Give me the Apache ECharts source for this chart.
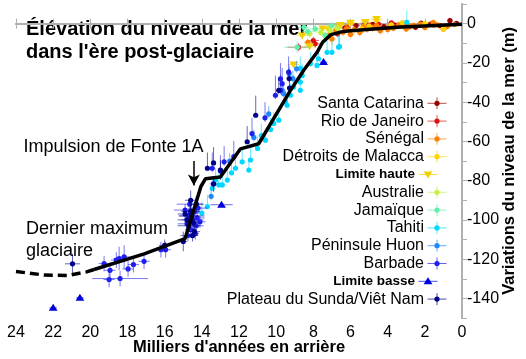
<!DOCTYPE html>
<html><head><meta charset="utf-8">
<script src="https://cdn.jsdelivr.net/npm/echarts@6/dist/echarts.min.js"></script>
<style>html,body{margin:0;padding:0;background:#fff}#c{width:526px;height:359px}</style>
</head><body><div id="c"></div>
<script>
// ---- data: [kyr ago, sea level (m), x error, y error up, y error down]
const santaCatarina = [[5.7,-1.0,0.2,1,1],[4.2,-1.5,0.2,1,1],[2.5,-1.9,0.2,1,1],[1.7,-0.2,0.2,1,1],[0.65,1.5,0.15,1.5,1.5],[1.2,-1.0,0.2,1,1],[6.3,-2.2,0.2,1,1],[3.6,-0.8,0.2,1,1],[5.2,0.2,0.2,1,1],[4.8,-0.4,0.2,1,1],[3.2,-0.3,0.2,1,1],[2.2,0.3,0.2,1,1],[0.3,0.2,0.15,1,1]];
const rioDeJaneiro = [[8.8,-12,0.6,2,2],[7.9,-10.3,0.3,2,2],[8.0,-8.6,0.3,2,2],[3.0,-1,0.2,1,1],[2.1,-0.5,0.2,1,1],[6.7,-5.2,0.2,1.5,1.5],[5.0,-0.8,0.2,1,1],[4.5,-0.2,0.2,1,1],[3.8,0.4,0.2,1,1],[1.5,-0.7,0.2,1,1],[6.2,-1.8,0.2,1,1]];
const senegal = [[8.3,-9.5,0.2,2,2],[7.1,-5.2,0.2,2,2],[7.0,-7.8,0.2,3,3],[6.4,-4.4,0.2,2,2],[5.1,-2.7,0.2,2,2],[4.4,-3.6,0.2,2,2],[3.4,-0.5,0.2,1.5,1.5],[2.25,-0.2,0.2,1.5,1.5],[1.55,0.7,0.2,1,1],[1.0,-2.7,0.2,1.5,1.5],[5.8,-3,0.2,2,2],[3.9,-1.2,0.2,1.5,1.5],[2.8,-1.5,0.2,1.5,1.5],[6.8,-3.5,0.2,2,2],[0.4,-0.5,0.2,1,1],[6.2,-2.5,0.2,2,2],[5.5,-4.5,0.2,2,2],[4.8,-2.2,0.2,2,2],[4.0,-3.0,0.2,2,2],[3.7,-2.4,0.2,1.5,1.5],[3.0,-2.8,0.2,1.5,1.5],[2.6,-0.9,0.2,1.5,1.5],[2.0,-2.0,0.2,1.5,1.5],[1.3,-0.6,0.2,1,1],[0.8,-1.5,0.2,1,1],[7.3,-6.5,0.2,2,2],[6.0,-5.5,0.2,2,2],[5.3,-1.4,0.2,2,2],[4.6,-0.9,0.2,2,2]];
const malacca = [[6.7,-1.9,0.2,1.5,1.5],[5.4,-2.7,0.2,1.5,1.5],[4.6,1.9,0.3,1.5,1.5],[1.0,-2.7,0.2,1.5,1.5],[3.2,0.5,0.2,1,1],[6.0,0.3,0.2,1.5,1.5],[5.0,-1.2,0.2,1.5,1.5],[3.8,-0.6,0.2,1.5,1.5],[2.0,0.2,0.2,1,1],[7.2,-2.5,0.2,1.5,1.5]];
const limiteHaute = [[9.06,-20.8,0.3,0,0],[8.2,-11.5,0.3,0,0],[6.55,-0.7,0.4,0,0],[4.6,2.4,0.3,0,0],[6.0,0.5,0.3,0,0],[7.5,-2.5,0.3,0,0],[5.2,0.8,0.3,0,0],[8.6,-6,0.3,0,0]];
const australie = [[8.2,-5.2,0.2,2,2],[7.1,-3.6,0.2,2,2],[6.7,-2.4,0.2,2,2],[7.6,-4.5,0.2,2,2]];
const jamaique = [[8.87,-12,0.7,3,3],[8.5,-1.9,0.3,2,2],[7.0,-1,0.3,2,2],[7.9,-2.7,0.3,2,2],[7.36,-6,0.2,2,2],[8.3,-4,0.3,2,2]];
const tahiti = [[13.7,-93.2,0.1,6,1],[14.0,-96.5,0.1,6,1],[13.44,-83.9,0.1,6,1],[13.26,-79.7,0.1,6,1],[12.9,-82.2,0.1,6,1],[12.63,-79.7,0.1,6,1],[12.19,-73.7,0.1,6,1],[11.83,-70.4,0.1,6,1],[11.47,-74.6,0.1,6,1],[11.38,-69.5,0.1,6,1],[11.0,-63.6,0.1,6,1],[10.58,-59.4,0.1,6,1],[10.13,-50.9,0.1,6,1],[9.86,-49.2,0.1,6,1],[9.5,-39.9,0.1,6,1],[9.41,-41.6,0.1,6,1],[9.23,-36.5,0.1,6,1],[9.06,-32.3,0.1,6,1],[8.7,-34,0.1,6,1],[8.7,-29.8,0.1,6,1],[8.6,-26.4,0.1,6,1],[8.7,-22.8,0.1,6,1],[8.16,-20.4,0.1,6,1],[7.8,-21.3,0.1,6,1],[7.72,-17.9,0.1,6,1],[7.26,-14.6,0.1,6,1],[7.0,-14.6,0.1,6,1],[6.64,-12,0.1,6,1],[6.59,-11.7,0.1,6,1],[2.97,0.7,0.1,6,1],[13.08,-82.2,0.1,6,1],[12.4,-76,0.1,6,1],[10.8,-57,0.1,6,1],[10.3,-54,0.1,6,1]];
const huon = [[9.6,-35.7,0.1,4,2],[9.3,-25.5,0.1,4,2],[9.68,-34,0.1,4,2],[10.4,-46,0.1,4,2],[11.2,-58,0.1,4,2],[12.5,-70,0.1,4,2],[13.5,-88,0.1,4,2],[8.9,-23,0.1,4,2],[9.1,-28,0.1,4,2]];
const barbade = [[19.26,-122.3,0.3,4,4],[18.94,-125.7,0.3,4,4],[18.99,-130.4,0.3,4,4],[18.4,-129.9,1.5,4,4],[18.45,-119.7,0.3,6,6],[18.18,-118.9,0.3,6,6],[17.97,-125,0.3,4,4],[17.68,-122.8,0.3,4,4],[17.11,-121.1,0.3,4,4],[16.2,-115.2,0.3,4,4],[15.95,-115.2,0.3,4,4],[18.6,-120.5,0.3,4,4],[14.7,-98,0.5,4,4],[14.5,-100,0.6,4,4],[14.3,-103,0.4,4,4],[14.6,-105,0.3,4,4],[14.4,-96,0.3,4,4],[14.25,-99,0.4,3,3],[14.8,-102,0.5,3,3],[14.35,-107,0.2,3,3],[14.9,-95,0.6,3,3],[14.2,-94,0.5,3,3],[14.65,-92,0.7,3,3],[14.1,-101,0.3,3,3],[14.75,-108,0.4,3,3],[12.8,-70.4,0.1,8,2],[12.28,-67.8,0.1,8,2],[13.44,-73.7,0.1,8,2],[9.77,-34,0.1,8,2],[9.68,-30.6,0.1,8,2],[9.33,-24.7,0.1,8,2],[10.04,-36.5,0.1,10,2],[9.77,-28.1,0.1,8,2],[11.3,-56,0.1,8,2],[10.6,-48,0.1,8,2],[13.0,-75,0.1,8,2]];
const limiteBasse = [[22.0,-144.8,0.2,0,0],[20.56,-139.7,0.2,0,0],[12.94,-92.3,0.6,0,0],[7.45,-19.6,0.2,0,0]];
const sunda = [[20.96,-122.4,0.4,5,5],[15.0,-111,0.2,5,5],[14.6,-90,0.3,5,5],[14.6,-95.7,0.5,5,5],[14.8,-100,0.5,5,5],[14.45,-101.5,0.4,5,5],[13.37,-81.7,0.2,4,4],[11.1,-46.7,0.1,10,1],[11.56,-60.2,0.1,8,1],[13.0,-74.6,0.1,5,5],[13.37,-71,0.1,8,1],[13.7,-73.7,0.1,8,1],[9.86,-34,0.1,6,2],[9.3,-28,0.1,5,2],[9.28,-32.8,0.1,5,2],[14.9,-97,0.4,3,3],[14.5,-108,0.3,3,3],[16.0,-113,0.3,3,3],[14.55,-98,0.7,4,4],[14.3,-92,0.4,4,4],[14.7,-103,0.6,3,3],[14.4,-106,0.3,3,3]];

const curveDashed = [[24,-126.3],[22.5,-128.1],[21.2,-128.3],[20.2,-126.5],[19.8,-125.3]];
const curveSolid = [[19.8,-125.3],[17.1,-117.3],[14.9,-109.5],[14.05,-83],[13.8,-79],[13.0,-78.2],[11.92,-63.8],[10.94,-61.2],[9.23,-34],[8.5,-23.5],[7.8,-14.6],[7.5,-9.5],[7.05,-5.6],[6.5,-4.2],[6.0,-3.6],[3.5,-1.9],[0,-0.3]];

const seriesNames = ['Santa Catarina','Rio de Janeiro','Sénégal','Détroits de Malacca','Limite haute','Australie','Jamaïque','Tahiti','Péninsule Huon','Barbade','Limite basse','Plateau du Sunda/Viêt Nam'];
const seriesData = [santaCatarina, rioDeJaneiro, senegal, malacca, limiteHaute, australie, jamaique, tahiti, huon, barbade, limiteBasse, sunda];
const seriesColors = ['#9a0000','#e01010','#ff8000','#ffd400','#f2d000','#c4f040','#60f0a8','#00d8ff','#2088ff','#2020ee','#0000dd','#000088'];
const seriesShapes = ['circle','circle','circle','circle','triDown','circle','circle','circle','circle','circle','triUp','circle'];

const titleText = "Élévation du niveau de la mer\ndans l'ère post-glaciaire";
const xName = "Milliers d'années en arrière";
const yName = 'Variations du niveau de la mer (m)';

const FONT = '"Liberation Sans", Arial, sans-serif';

function triPoints(cx, cy, dir, s) {
  if (dir === 'triUp') return [[cx, cy - s], [cx + s * 1.1, cy + s * 0.75], [cx - s * 1.1, cy + s * 0.75]];
  return [[cx, cy + s], [cx + s * 1.1, cy - s * 0.75], [cx - s * 1.1, cy - s * 0.75]];
}

function makeRender(color, shape) {
  return function (params, api) {
    const x = api.value(0), y = api.value(1), xe = api.value(2), up = api.value(3), dn = api.value(4);
    const c = api.coord([x, y]);
    const ch = [];
    if (xe > 0) {
      const a = api.coord([x + xe, y]), b = api.coord([x - xe, y]);
      ch.push({ type: 'line', shape: { x1: a[0], y1: a[1], x2: b[0], y2: b[1] }, style: { stroke: color, lineWidth: 1, opacity: 0.6 } });
    }
    if (up > 0 || dn > 0) {
      const a = api.coord([x, y + up]), b = api.coord([x, y - dn]);
      ch.push({ type: 'line', shape: { x1: a[0], y1: a[1], x2: b[0], y2: b[1] }, style: { stroke: color, lineWidth: 1, opacity: 0.6 } });
    }
    if (shape === 'circle') ch.push({ type: 'circle', shape: { cx: c[0], cy: c[1], r: 2.6 }, style: { fill: color } });
    else ch.push({ type: 'polygon', shape: { points: triPoints(c[0], c[1], shape, 4) }, style: { fill: color } });
    return { type: 'group', children: ch };
  };
}

const series = seriesNames.map((n, i) => ({
  name: n, type: 'custom', data: seriesData[i], encode: { x: 0, y: 1 },
  renderItem: makeRender(seriesColors[i], seriesShapes[i]), z: 2, silent: true
}));
series.push({
  type: 'line', data: curveSolid, symbol: 'none', z: 5, silent: true,
  lineStyle: { color: '#000', width: 3.5 },
  markLine: {
    silent: true, symbol: ['none', 'arrow'], symbolSize: [9, 11],
    lineStyle: { color: '#000', width: 1.5, type: 'solid' }, label: { show: false },
    data: [[{ coord: [14.43, -70] }, { coord: [14.43, -82.5] }]]
  }
});
series.push({
  type: 'line', data: curveDashed, symbol: 'none', z: 5, silent: true,
  lineStyle: { color: '#000', width: 3.5, type: [9, 5] }
});

// legend drawn as graphics
const legendGraphics = [];
seriesNames.forEach((n, i) => {
  const y = 103.3 + i * 17.8;
  const isLim = seriesShapes[i] !== 'circle';
  const col = seriesColors[i];
  const sx = isLim ? 428 : 437;
  legendGraphics.push({ type: 'text', x: sx - 13, y: y, style: { text: n, align: 'right', verticalAlign: 'middle', fill: '#000',
    font: (isLim ? 'bold 13.5px ' : '16px ') + FONT } });
  legendGraphics.push({ type: 'line', shape: { x1: sx - 9.5, y1: y, x2: sx + 9.5, y2: y }, style: { stroke: col, lineWidth: 1, opacity: 0.7 } });
  if (!isLim) {
    legendGraphics.push({ type: 'line', shape: { x1: sx, y1: y - 6, x2: sx, y2: y + 6 }, style: { stroke: col, lineWidth: 1, opacity: 0.7 } });
    legendGraphics.push({ type: 'circle', shape: { cx: sx, cy: y, r: 2.6 }, style: { fill: col } });
  } else {
    legendGraphics.push({ type: 'polygon', shape: { points: triPoints(sx, y, seriesShapes[i], 4) }, style: { fill: col } });
  }
});

const chart = echarts.init(document.getElementById('c'), null, { renderer: 'canvas' });
const axisLineStyle = { color: '#b0b0b0', width: 2 };
chart.setOption({
  animation: false,
  backgroundColor: '#fff',
  textStyle: { fontFamily: FONT },
  grid: { left: 16, right: 64, top: 4, bottom: 41, containLabel: false, outerBoundsMode: 'none' },
  xAxis: [
    { type: 'value', min: 0, max: 24, interval: 2, inverse: true, position: 'bottom',
      axisLine: { show: true, lineStyle: axisLineStyle }, axisTick: { show: true, inside: true, length: 5, lineStyle: { color: '#b0b0b0' } },
      axisLabel: { color: '#000', fontSize: 16, margin: 7, fontFamily: FONT }, splitLine: { show: false },
      name: xName, nameLocation: 'middle', nameGap: 21, nameMoveOverlap: false,
      nameTextStyle: { color: '#000', fontWeight: 'bold', fontSize: 16.5, fontFamily: FONT } },
    { type: 'value', min: 0, max: 24, interval: 2, inverse: true, position: 'top',
      axisLine: { show: true, lineStyle: axisLineStyle }, axisTick: { show: true, inside: true, length: 5, lineStyle: { color: '#b0b0b0' } },
      axisLabel: { show: false }, splitLine: { show: false } }
  ],
  yAxis: [
    { type: 'value', min: -150, max: 10, interval: 10, position: 'right',
      axisLine: { show: true, lineStyle: axisLineStyle }, axisTick: { show: true, inside: false, length: 4, lineStyle: { color: '#b0b0b0' } },
      axisLabel: { color: '#000', fontSize: 16, margin: 5, fontFamily: FONT, formatter: v => (v % 20 === 0 ? String(v) : '') },
      splitLine: { show: false },
      name: yName, nameLocation: 'middle', nameGap: 39, nameMoveOverlap: false,
      nameTextStyle: { color: '#000', fontWeight: 'bold', fontSize: 16.5, fontFamily: FONT } },
    { type: 'value', min: -150, max: 10, interval: 10, position: 'left',
      axisLine: { show: true, lineStyle: axisLineStyle }, axisTick: { show: true, inside: true, length: 5, lineStyle: { color: '#b0b0b0' } },
      axisLabel: { show: false }, splitLine: { show: false } }
  ],
  graphic: [
    { type: 'text', x: 26, y: 18, style: { text: titleText, font: 'bold 20px ' + FONT, lineHeight: 23.3, fill: '#000', verticalAlign: 'top' } },
    { type: 'text', x: 23.5, y: 138.5, style: { text: 'Impulsion de Fonte 1A', font: '18px ' + FONT, fill: '#000', verticalAlign: 'top' } },
    { type: 'text', x: 26, y: 218.5, style: { text: 'Dernier maximum\nglaciaire', font: '18px ' + FONT, lineHeight: 21.6, fill: '#000', verticalAlign: 'top' } }
  ].concat(legendGraphics),
  series: series
});
</script></body></html>
